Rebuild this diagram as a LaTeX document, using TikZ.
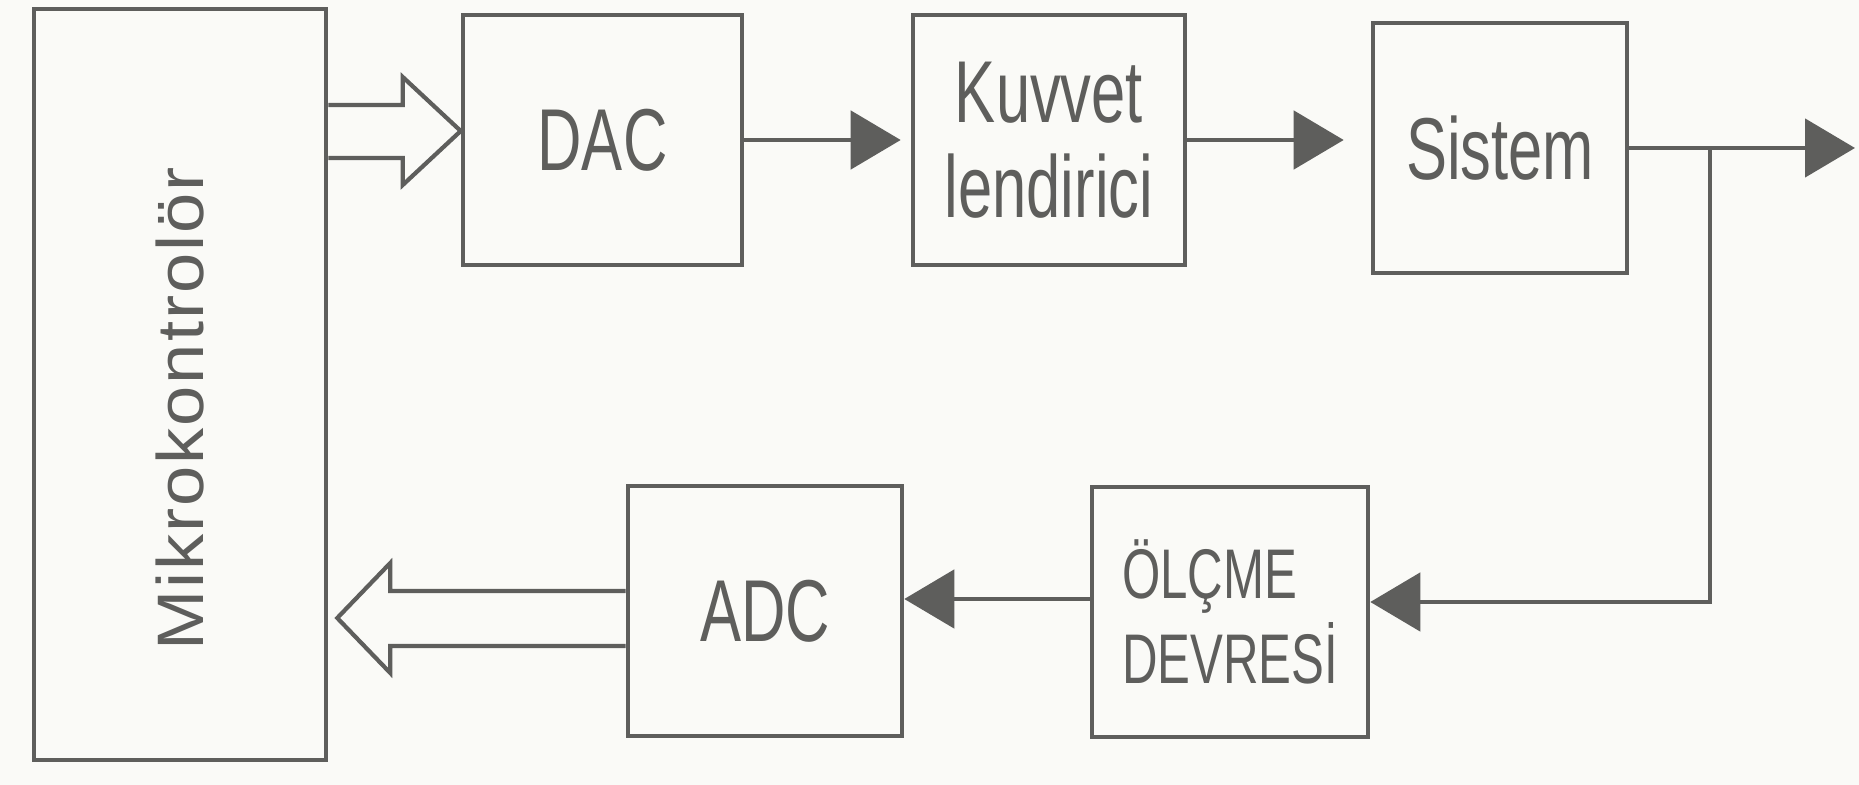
\documentclass[tikz,border=0pt]{standalone}
\usepackage{fontspec}
\setmainfont{Liberation Sans}[FakeStretch=0.7]
\newfontfamily\mikrofont{Liberation Sans}[FakeStretch=1.1,LetterSpace=3]
\usetikzlibrary{arrows.meta,calc}
\definecolor{ink}{HTML}{5E5E5C}
\definecolor{paper}{HTML}{FAFAF7}

\begin{document}
\begin{tikzpicture}[x=0.1mm,y=-0.1mm,
    blok/.style={draw=ink, line width=1.3pt, inner sep=0pt, text=ink,
        font=\fontsize{25}{27}\selectfont, align=center},
    ok/.style={draw=ink, line width=1.4pt, -{Triangle[length=5mm,width=5.8mm]}},
    bos/.style={draw=ink, line width=1.2pt, line join=miter}]
    \fill[paper] (0,0) rectangle (1859,785);
    \useasboundingbox (0,0) rectangle (1859,785);
    % Nodes
    \node[blok, minimum width=29.2mm, minimum height=75.1mm] (mikro) at (180,384.5) {};
    \node[text=ink, rotate=90, inner sep=0pt,
        font=\mikrofont\fontsize{18.7}{20}\selectfont] (mikroyazi) at (180,409) {Mikrokontrolör};
    \node[blok, minimum width=27.9mm, minimum height=25mm] (dac) at (602.5,140) {DAC};
    \node[blok, minimum width=27.2mm, minimum height=25mm] (kuv) at (1049,140) {Kuvvet\\lendirici};
    \node[blok, minimum width=25.4mm, minimum height=25mm] (sis) at (1500,148) {Sistem};
    \node[blok, minimum width=27.4mm, minimum height=25mm] (adc) at (765,611) {ADC};
    \node[blok, minimum width=27.6mm, minimum height=25mm, align=left,
        font=\fontsize{20}{24}\selectfont] (olcme) at (1230,612) {ÖLÇME\\DEVRESİ};
    \coordinate (dal) at (1710,148);
    \coordinate (cikis) at (1855,148);
    % Edges
    \draw[bos] ($(mikro.east |- dac.west)+(0,-35)$) -- ($(dac.west)+(-58,-35)$)
        -- ($(dac.west)+(-58,-63)$) -- ($(dac.west)+(0,-9)$) -- ($(dac.west)+(-58,45)$)
        -- ($(dac.west)+(-58,18)$) -- ($(mikro.east |- dac.west)+(0,18)$);
    \draw[ok] (dac.east) -- ([xshift=-1mm]kuv.west);
    \draw[ok] (kuv.east) -- ($(kuv.east -| sis.west)+(-27,0)$);
    \draw[ok] (sis.east) -- (cikis);
    \draw[ok] (dal) |- ($(olcme.east)+(0,-10)$);
    \draw[ok] ($(olcme.west)+(0,-13)$) -- ($(adc.east)+(0,-12)$);
    \draw[bos] ($(adc.west)+(0,-20)$) -- ($(mikro.east |- adc.west)+(62,-20)$)
        -- ($(mikro.east |- adc.west)+(62,-48)$) -- ($(mikro.east |- adc.west)+(9,7)$)
        -- ($(mikro.east |- adc.west)+(62,62)$) -- ($(mikro.east |- adc.west)+(62,35)$)
        -- ($(adc.west)+(0,35)$);
\end{tikzpicture}
\end{document}
